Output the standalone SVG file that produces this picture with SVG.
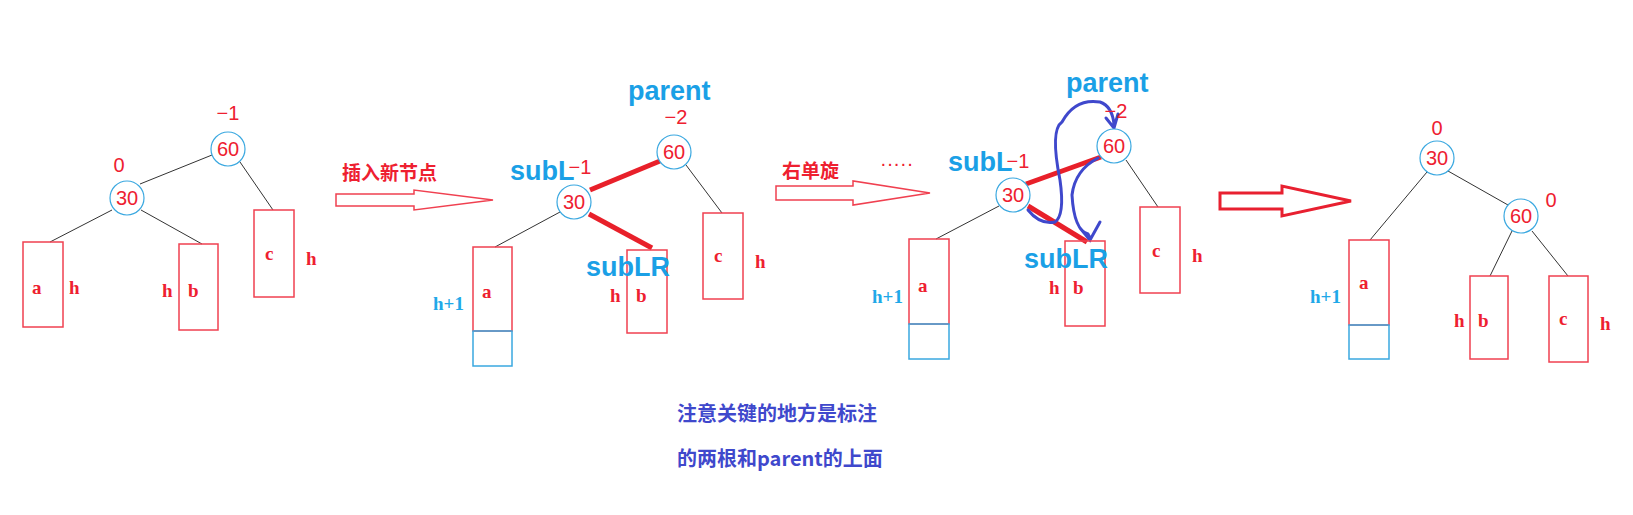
<svg xmlns="http://www.w3.org/2000/svg" width="1633" height="515" viewBox="0 0 1633 515">
<style>
.box{fill:none;stroke:#f04050;stroke-width:1.5}
.bbox{fill:none;stroke:#3aa8e0;stroke-width:1.5}
.circ{fill:#fff;stroke:#3aa8e0;stroke-width:1.2}
.edge{stroke:#333;stroke-width:1}
.thick{stroke:#e8202a;stroke-width:5}
.r{font-family:"Liberation Serif",serif;font-weight:bold;fill:#ee2030;font-size:19px}
.num{font-family:"Liberation Sans",sans-serif;fill:#ee2030;font-size:20px}
.blu{font-family:"Liberation Serif",serif;font-weight:bold;fill:#20a8e8;font-size:19px}
.lbl{font-family:"Liberation Sans",sans-serif;font-weight:bold;fill:#1aa0e6;font-size:27px}
.cn{font-family:"Noto Sans CJK SC",sans-serif;fill:#ee2030;font-size:19px;font-weight:bold}
.note{font-family:"Noto Sans CJK SC",sans-serif;fill:#3f48cc;font-size:20px;font-weight:bold}
.scr{fill:none;stroke:#3f48cc;stroke-width:3;stroke-linecap:round}
.harrow{fill:#fff;stroke:#f04050;stroke-width:1.5}
</style>
<rect width="1633" height="515" fill="#fff"/>
<g id="connectors">
<line class="edge" x1="212" y1="155" x2="140" y2="184"/>
<line class="edge" x1="240" y1="162" x2="273" y2="210"/>
<line class="edge" x1="112" y1="210" x2="50" y2="242"/>
<line class="edge" x1="141" y1="210" x2="202" y2="244"/>
<line class="edge" x1="686" y1="165" x2="722" y2="213"/>
<line class="edge" x1="560" y1="212" x2="495" y2="247"/>
<line class="thick" x1="590" y1="190" x2="660" y2="161"/>
<line class="thick" x1="589" y1="214" x2="652" y2="248"/>
<line class="edge" x1="1126" y1="160" x2="1158" y2="207"/>
<line class="edge" x1="999" y1="206" x2="936" y2="239"/>
<line class="thick" x1="1026" y1="184" x2="1101" y2="157"/>
<line class="thick" x1="1028" y1="206" x2="1087" y2="242"/>
<line class="edge" x1="1427" y1="172" x2="1370" y2="240"/>
<line class="edge" x1="1448" y1="171" x2="1508" y2="205"/>
<line class="edge" x1="1512" y1="231" x2="1490" y2="276"/>
<line class="edge" x1="1532" y1="231" x2="1568" y2="276"/>
<path class="scr" d="M1028 210 Q1040 225 1055 222 Q1065 215 1060 180 Q1050 130 1062 122 Q1075 98 1100 102 Q1112 106 1114 124 M1106 118 L1114 128 L1118 114 M1098 158 Q1075 170 1072 195 Q1074 230 1088 234 L1090 238 M1080 228 L1090 240 L1100 222"/>
</g>
<g id="arrow1"><path class="harrow" d="M336 194 L414 194 L414 190 L493 200 L414 210 L414 206 L336 206 Z"/><text class="cn" x="342" y="180">插入新节点</text></g>
<g id="arrow2"><path class="harrow" d="M776 186 L853 186 L853 181 L930 193 L853 205 L853 200 L776 200 Z"/><text class="cn" x="782" y="178">右单旋</text><text class="num" x="880" y="170" font-size="10">·····</text></g>
<g id="arrow3"><path d="M1220 193 L1282 193 L1282 186 L1351 201 L1282 216 L1282 209 L1220 209 Z" fill="#fff" stroke="#e82030" stroke-width="3"/></g>
<g id="tree1">
<g id="t1-60"><circle class="circ" cx="228" cy="149" r="17"/><text class="num" x="228" y="156" text-anchor="middle">60</text><text class="num" x="228" y="120" text-anchor="middle">−1</text></g>
<g id="t1-30"><circle class="circ" cx="127" cy="198" r="17"/><text class="num" x="127" y="205" text-anchor="middle">30</text><text class="num" x="119" y="172" text-anchor="middle">0</text></g>
<g id="t1-a"><rect class="box" x="23" y="242" width="40" height="85"/><text class="r" x="32" y="294">a</text><text class="r" x="69" y="294">h</text></g>
<g id="t1-b"><rect class="box" x="179" y="244" width="39" height="86"/><text class="r" x="188" y="297">b</text><text class="r" x="162" y="297">h</text></g>
<g id="t1-c"><rect class="box" x="254" y="210" width="40" height="87"/><text class="r" x="265" y="260">c</text><text class="r" x="306" y="265">h</text></g>
</g>
<g id="tree2">
<text class="lbl" x="628" y="100">parent</text>
<g id="t2-60"><circle class="circ" cx="674" cy="152" r="17"/><text class="num" x="674" y="159" text-anchor="middle">60</text><text class="num" x="676" y="124" text-anchor="middle">−2</text></g>
<g id="t2-30"><circle class="circ" cx="574" cy="202" r="17"/><text class="num" x="574" y="209" text-anchor="middle">30</text><text class="lbl" x="510" y="180">subL</text><text class="num" x="580" y="174" text-anchor="middle">−1</text></g>
<g id="t2-a"><rect class="box" x="473" y="247" width="39" height="84"/><rect class="bbox" x="473" y="331" width="39" height="35"/><text class="r" x="482" y="298">a</text><text class="blu" x="433" y="310">h+1</text></g>
<g id="t2-b"><rect class="box" x="627" y="250" width="40" height="83"/><text class="r" x="636" y="302">b</text><text class="r" x="610" y="302">h</text><text class="lbl" x="586" y="276">subLR</text></g>
<g id="t2-c"><rect class="box" x="703" y="213" width="40" height="86"/><text class="r" x="714" y="262">c</text><text class="r" x="755" y="268">h</text></g>
</g>
<g id="tree3">
<text class="lbl" x="1066" y="92">parent</text>
<g id="t3-60"><circle class="circ" cx="1114" cy="146" r="17" fill="none"/><text class="num" x="1114" y="153" text-anchor="middle">60</text><text class="num" x="1116" y="118" text-anchor="middle">−2</text></g>
<g id="t3-30"><circle class="circ" cx="1013" cy="195" r="17"/><text class="num" x="1013" y="202" text-anchor="middle">30</text><text class="lbl" x="948" y="171">subL</text><text class="num" x="1018" y="168" text-anchor="middle">−1</text></g>
<g id="t3-a"><rect class="box" x="909" y="239" width="40" height="85"/><rect class="bbox" x="909" y="324" width="40" height="35"/><text class="r" x="918" y="292">a</text><text class="blu" x="872" y="303">h+1</text></g>
<g id="t3-b"><rect class="box" x="1065" y="241" width="40" height="85"/><text class="r" x="1073" y="294">b</text><text class="r" x="1049" y="294">h</text><text class="lbl" x="1024" y="268">subLR</text></g>
<g id="t3-c"><rect class="box" x="1140" y="207" width="40" height="86"/><text class="r" x="1152" y="257">c</text><text class="r" x="1192" y="262">h</text></g>
</g>
<g id="tree4">
<g id="t4-30"><circle class="circ" cx="1437" cy="158" r="17"/><text class="num" x="1437" y="165" text-anchor="middle">30</text><text class="num" x="1437" y="135" text-anchor="middle">0</text></g>
<g id="t4-60"><circle class="circ" cx="1521" cy="216" r="17"/><text class="num" x="1521" y="223" text-anchor="middle">60</text><text class="num" x="1551" y="207" text-anchor="middle">0</text></g>
<g id="t4-a"><rect class="box" x="1349" y="240" width="40" height="85"/><rect class="bbox" x="1349" y="325" width="40" height="34"/><text class="r" x="1359" y="289">a</text><text class="blu" x="1310" y="303">h+1</text></g>
<g id="t4-b"><rect class="box" x="1470" y="276" width="38" height="83"/><text class="r" x="1478" y="327">b</text><text class="r" x="1454" y="327">h</text></g>
<g id="t4-c"><rect class="box" x="1549" y="276" width="39" height="86"/><text class="r" x="1559" y="325">c</text><text class="r" x="1600" y="330">h</text></g>
</g>
<text class="note" x="677" y="421">注意关键的地方是标注</text>
<text class="note" x="677" y="466">的两根和parent的上面</text>
</svg>
